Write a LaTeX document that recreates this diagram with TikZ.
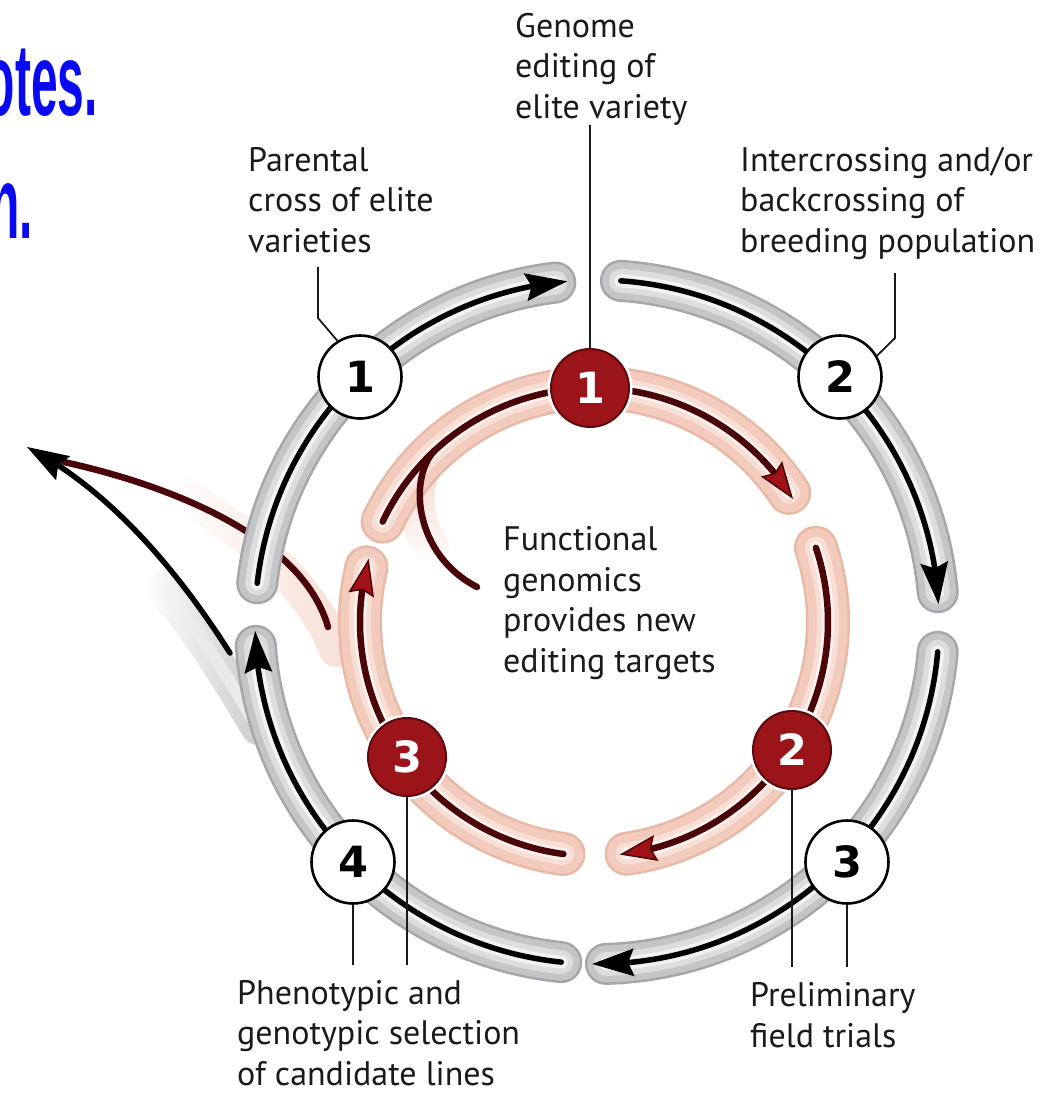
\documentclass[tikz,border=0pt]{standalone}
\usepackage{fontspec}
\setmainfont{PT Sans}
\newfontfamily\numfont{DejaVu Sans}
\newfontfamily\slidefont{Liberation Sans}[FakeStretch=0.47]
\usetikzlibrary{arrows.meta,bending,fadings}

\definecolor{bandedge}{HTML}{A4A6A9}
\definecolor{bandbody}{HTML}{C3C5C7}
\definecolor{bandlight}{HTML}{DCDDDE}
\definecolor{bandhi}{HTML}{F2F2F2}
\definecolor{pinkedge}{HTML}{E7B9A6}
\definecolor{pinkbody}{HTML}{F2CBBC}
\definecolor{pinklight}{HTML}{F8DFD5}
\definecolor{pinkhi}{HTML}{FDF2EE}
\definecolor{maroon}{HTML}{4A0508}
\definecolor{tipred}{HTML}{A01218}
\definecolor{dotred}{HTML}{9B1419}
\definecolor{dotedge}{HTML}{5E0A0D}
\definecolor{ink}{HTML}{1A1A1A}
\definecolor{slideblue}{HTML}{0A0AF0}

\tikzfading[name=fadebottom, top color=transparent!0, bottom color=transparent!100]
\tikzfading[name=fadeleft, left color=transparent!100, middle color=transparent!35, right color=transparent!0]

\begin{document}
\begin{tikzpicture}[x=1pt,y=-1pt,
  graytube/.style={line cap=round, line width=42pt, draw=bandedge,
    postaction={draw=bandbody, line width=37pt},
    postaction={draw=bandlight, line width=24pt},
    postaction={draw=bandhi, line width=13pt}},
  pinktube/.style={line cap=round, line width=44pt, draw=pinkedge,
    postaction={draw=pinkbody, line width=39pt},
    postaction={draw=pinklight, line width=22pt},
    postaction={draw=pinkhi, line width=12pt}},
  blackline/.style={line cap=round, line width=5.5pt, draw=black},
  redline/.style={line cap=round, line width=6.5pt, draw=maroon},
  blacktip/.style={-{Stealth[length=42pt,width=28pt,inset=6pt,line width=0pt]}},
  redtip/.style={-{Stealth[length=37pt,width=26pt,inset=5pt,fill=tipred,line width=1.5pt]}},
  wdot/.style={circle, draw=black, line width=2.6pt, fill=white, minimum size=83pt,
    inner sep=0pt, font=\numfont\bfseries\fontsize{43}{43}\selectfont},
  rdot/.style={circle, fill=dotred, draw=dotedge, line width=2pt, text=white,
    minimum size=78pt, inner sep=0pt, preaction={draw=white, line width=7pt},
    font=\numfont\bfseries\fontsize{43}{43}\selectfont},
  lbl/.style={anchor=base west, align=left, inner sep=0pt, text=ink,
    font=\fontsize{34}{40.5}\selectfont},
  leader/.style={draw=ink, line width=1.8pt},
  slide/.style={anchor=base east, inner sep=0pt, text=slideblue,
    font=\slidefont\bfseries\fontsize{102}{102}\selectfont}]

% canvas
\fill[white] (0,0) rectangle (1064,1093);
\useasboundingbox (0,0) rectangle (1064,1093);

\coordinate (oc) at (597,622);
\coordinate (ic) at (594,622);

% slide headline fragments
\node[slide] (bt1) at (98,115) {otes.};
\node[slide] (bt2) at (33,238) {n.};

% halos of the two exit branches
\draw[line width=34pt, pinklight, line cap=round, path fading=fadeleft]
  (336,650) .. controls (315,595) and (265,545) .. (185,495);
\draw[line width=34pt, bandbody, line cap=round, path fading=fadeleft]
  (258,728) .. controls (232,685) and (200,630) .. (162,588);
\draw[line width=12pt, bandhi, line cap=round, path fading=fadeleft]
  (258,728) .. controls (232,685) and (200,630) .. (162,588);

% red exit branch (passes under the outer ring)
\coordinate (rx0) at (328,627);
\coordinate (rx1) at (64,462);
\draw[redline] (rx0) .. controls (305,545) and (190,490) .. (rx1);

% inner cycle: pink tubes
\draw[line width=36pt, pinkbody, line cap=round, path fading=fadebottom]
  (431,545) .. controls (412,520) and (410,478) .. (434,451);
\draw[pinktube] ([shift={(205.4:234)}]ic) arc[start angle=205.4, end angle=326.5, radius=234];
\draw[pinktube] ([shift={(341.5:234)}]ic) arc[start angle=341.5, end angle=442, radius=234];
\draw[pinktube] ([shift={(97.5:234)}]ic) arc[start angle=97.5, end angle=193.5, radius=234];

% inner cycle: lines and arrows
\coordinate (fg0) at (477,587);
\coordinate (fg1) at (434,451);
\draw[redline] (fg0) .. controls (415,555) and (408,480) .. (fg1);
\draw[redline, redtip] ([shift={(205.4:234)}]ic) arc[start angle=205.4, end angle=328.3, radius=234];
\draw[redline, redtip] ([shift={(341.5:234)}]ic) arc[start angle=341.5, end angle=443.7, radius=234];
\draw[redline, redtip] ([shift={(97.5:234)}]ic) arc[start angle=97.5, end angle=195.7, radius=234];

% outer cycle: gray tubes
\draw[graytube] ([shift={(186.5:342)}]oc) arc[start angle=186.5, end angle=263, radius=342];
\draw[graytube] ([shift={(274:342)}]oc) arc[start angle=274, end angle=355, radius=342];
\draw[graytube] ([shift={(5:342)}]oc) arc[start angle=5, end angle=88.5, radius=342];
\draw[graytube] ([shift={(96:342)}]oc) arc[start angle=96, end angle=176, radius=342];

% outer cycle: lines and arrows
\draw[blackline, blacktip] ([shift={(186.5:342)}]oc) arc[start angle=186.5, end angle=265, radius=342];
\draw[blackline, blacktip] ([shift={(274:342)}]oc) arc[start angle=274, end angle=357, radius=342];
\draw[blackline, blacktip] ([shift={(5:342)}]oc) arc[start angle=5, end angle=90.8, radius=342];
\draw[blackline, blacktip] ([shift={(96:342)}]oc) arc[start angle=96, end angle=178.5, radius=342];

% black exit branch
\coordinate (bx0) at (230,653);
\coordinate (bx1) at (27,447);
\draw[blackline, blacktip] (bx0) .. controls (190,590) and (120,495) .. (bx1);

% step markers
\node[wdot] (w1) at (360,377) {1};
\node[wdot] (w2) at (840,377) {2};
\node[wdot] (w3) at (847,862) {3};
\node[wdot] (w4) at (353,862) {4};
\node[rdot] (r1) at (590,388) {1};
\node[rdot] (r2) at (792,750) {2};
\node[rdot] (r3) at (407,757) {3};

% labels (anchored at the baseline of their last line)
\node[lbl] (tgenome) at (515,118) {Genome\\editing of\\elite variety};
\node[lbl] (tparental) at (248,252) {Parental\\cross of elite\\varieties};
\node[lbl] (tinter) at (740,252) {Intercrossing and/or\\backcrossing of\\breeding population};
\node[lbl] (tfunc) at (503,672) {Functional\\genomics\\provides new\\editing targets};
\node[lbl] (tprelim) at (750,1047) {Preliminary\\field trials};
\node[lbl] (tpheno) at (237,1085) {Phenotypic and\\genotypic selection\\of candidate lines};

% leader lines
\coordinate (kg) at (590,125);
\draw[leader] (kg) -- (r1.north);
\coordinate (kp1) at (318,267);
\coordinate (kp2) at (318,318);
\draw[leader] (kp1) -- (kp2) -- (w1.122);
\coordinate (ki1) at (895,273);
\coordinate (ki2) at (895,338);
\draw[leader] (ki1) -- (ki2) -- (w2.30);
\coordinate (kf1) at (792,967);
\coordinate (kf2) at (847,967);
\draw[leader] (r2.south) -- (kf1);
\draw[leader] (w3.south) -- (kf2);
\coordinate (kq1) at (353,965);
\coordinate (kq2) at (407,965);
\draw[leader] (w4.south) -- (kq1);
\draw[leader] (r3.south) -- (kq2);
\end{tikzpicture}
\end{document}
